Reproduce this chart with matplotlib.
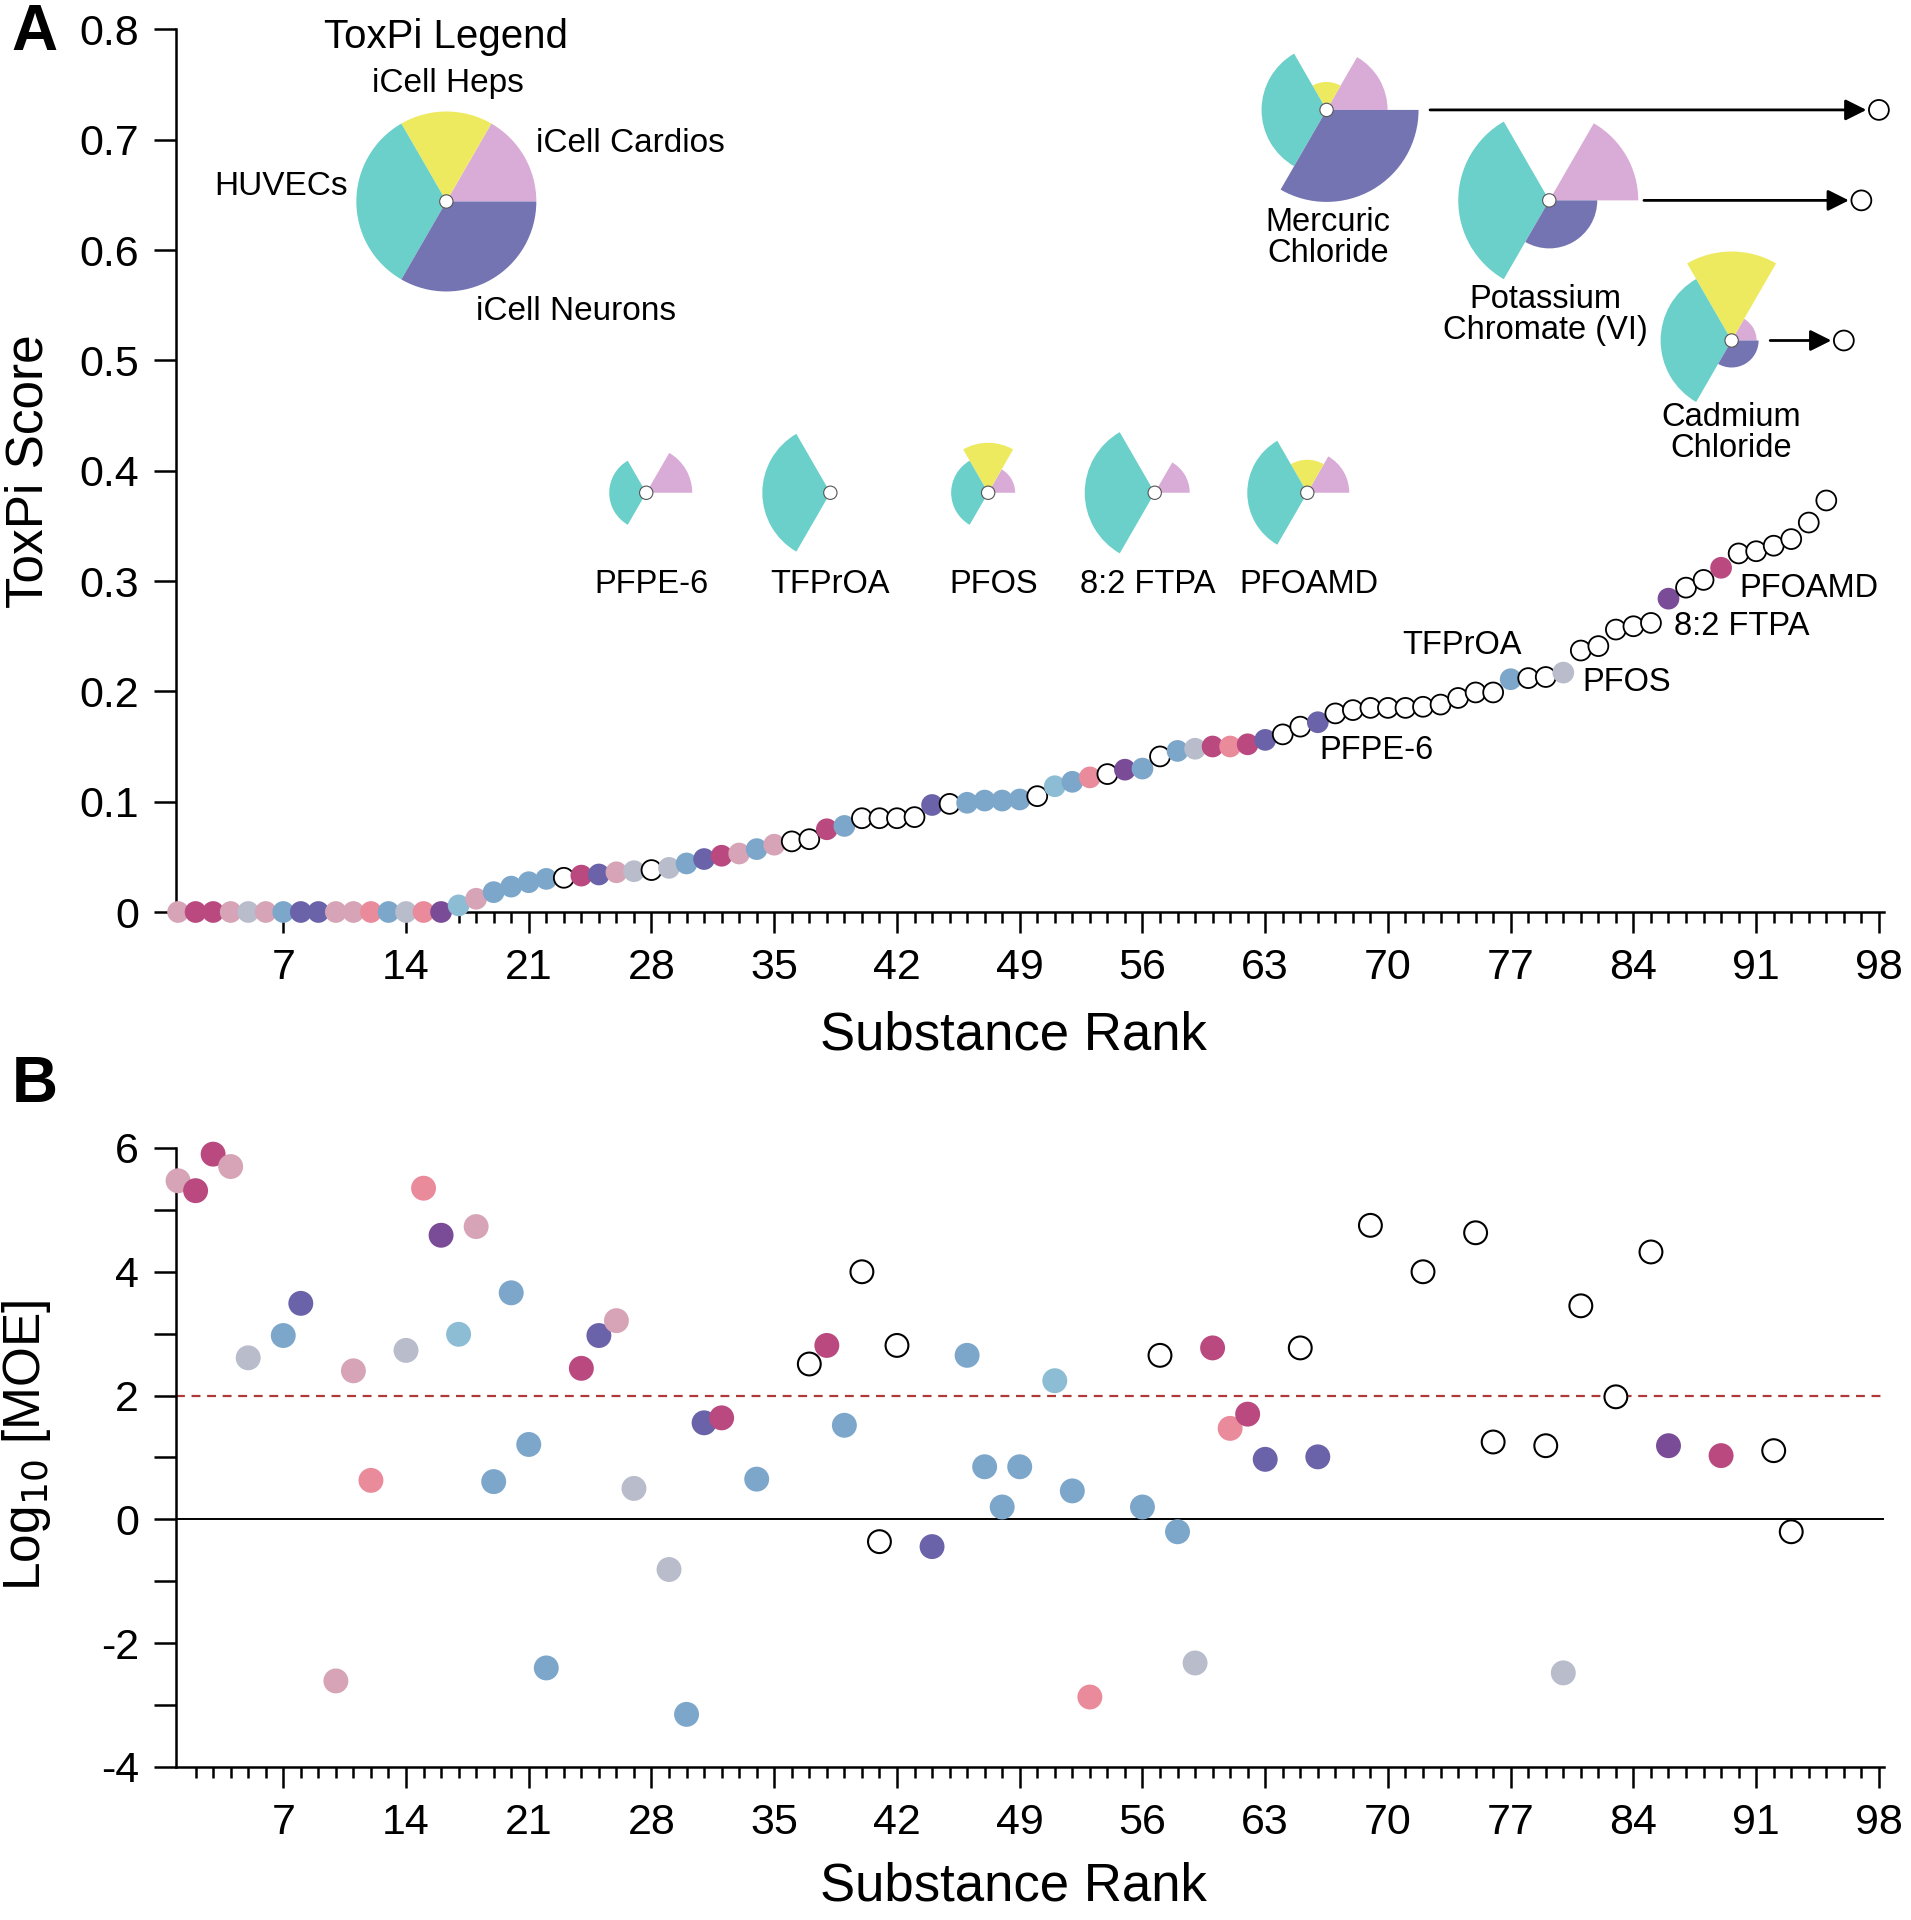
"""
ToxPi score ranking (A) and margin of exposure (B) for the tested substances
"""

import matplotlib

matplotlib.use('Agg')

import matplotlib.pyplot as plt
import numpy as np
from matplotlib.offsetbox import AnnotationBbox, DrawingArea
from matplotlib.patches import Circle, Wedge

plt.rcParams['font.family'] = ['Liberation Sans', 'DejaVu Sans']

# colours of the substance groups ('open' = hollow marker)
GROUP_COLORS = {
    'mauve': '#d6a4b6',
    'magenta': '#b9497f',
    'salmon': '#ea8b9b',
    'grey': '#b8bccb',
    'blue': '#7ca6ca',
    'sky': '#8dbdd4',
    'indigo': '#6a63a9',
    'violet': '#7a4b96',
    'open': 'none',
}

# ---- Panel A: ToxPi score per substance rank ----
rank = np.arange(1, 99)
toxpi_score = [
    0, 0, 0, 0, 0, 0, 0, 0, 0, 0, 0, 0, 0, 0, 0, 0,
    0.006, 0.012, 0.018, 0.023, 0.027, 0.030, 0.031, 0.033, 0.034, 0.036,
    0.037, 0.038, 0.040, 0.044, 0.048, 0.051, 0.053, 0.057, 0.061, 0.064,
    0.066, 0.075, 0.078, 0.085, 0.085, 0.085, 0.086, 0.097, 0.098, 0.099,
    0.101, 0.101, 0.102, 0.105, 0.114, 0.118, 0.122, 0.125, 0.129, 0.130,
    0.141, 0.146, 0.148, 0.150, 0.150, 0.152, 0.156, 0.161, 0.168, 0.172,
    0.180, 0.183, 0.185, 0.185, 0.185, 0.186, 0.188, 0.194, 0.199, 0.199,
    0.211, 0.212, 0.213, 0.217, 0.237, 0.241, 0.256, 0.259, 0.262, 0.284,
    0.294, 0.301, 0.312, 0.325, 0.327, 0.332, 0.338, 0.353, 0.373,
    0.518, 0.645, 0.727,
]
group = [
    'mauve', 'magenta', 'magenta', 'mauve', 'grey', 'mauve', 'blue', 'indigo',
    'indigo', 'mauve', 'mauve', 'salmon', 'blue', 'grey', 'salmon', 'violet',
    'sky', 'mauve', 'blue', 'blue', 'blue', 'blue', 'open', 'magenta',
    'indigo', 'mauve', 'grey', 'open', 'grey', 'blue', 'indigo', 'magenta',
    'mauve', 'blue', 'mauve', 'open', 'open', 'magenta', 'blue', 'open',
    'open', 'open', 'open', 'indigo', 'open', 'blue', 'blue', 'blue',
    'blue', 'open', 'sky', 'blue', 'salmon', 'open', 'violet', 'blue',
    'open', 'blue', 'grey', 'magenta', 'salmon', 'magenta', 'indigo', 'open',
    'open', 'indigo', 'open', 'open', 'open', 'open', 'open', 'open',
    'open', 'open', 'open', 'open', 'blue', 'open', 'open', 'grey',
    'open', 'open', 'open', 'open', 'open', 'violet', 'open', 'open',
    'magenta', 'open', 'open', 'open', 'open', 'open', 'open',
    'open', 'open', 'open',
]

# labelled PFAS on the curve: (name, rank)
curve_labels = ['PFPE-6', 'TFPrOA', 'PFOS', '8:2 FTPA', 'PFOAMD']
curve_label_rank = [66, 77, 80, 86, 89]

# ToxPi slices: iCell Cardios, iCell Heps, HUVECs, iCell Neurons
slice_names = ['iCell Cardios', 'iCell Heps', 'HUVECs', 'iCell Neurons']
slice_colors = ['#d9acd7', '#eeea60', '#6ad0c9', '#7574b3']
slice_angles = [(0, 60), (60, 120), (120, 240), (240, 360)]

# slice scores of the example glyphs
glyph_names = ['PFPE-6', 'TFPrOA', 'PFOS', '8:2 FTPA', 'PFOAMD']
glyph_slices = [
    [0.46, 0.00, 0.37, 0.00],
    [0.00, 0.00, 0.68, 0.00],
    [0.27, 0.50, 0.37, 0.00],
    [0.35, 0.00, 0.70, 0.00],
    [0.42, 0.33, 0.60, 0.00],
]
top_names = ['Mercuric\nChloride', 'Potassium\nChromate (VI)', 'Cadmium\nChloride']
top_rank = [98, 97, 96]
top_slices = [
    [0.61, 0.28, 0.65, 0.92],
    [0.89, 0.00, 0.91, 0.48],
    [0.25, 0.89, 0.71, 0.27],
]

# ---- Panel B: log10 margin of exposure ----
moe_rank = [1, 2, 3, 4, 5, 7, 8, 10, 11, 12, 14, 15, 16, 17, 18, 19, 20, 21,
            22, 24, 25, 26, 27, 29, 30, 31, 32, 34, 37, 38, 39, 40, 41, 42,
            44, 46, 47, 48, 49, 51, 52, 53, 56, 57, 58, 59, 60, 61, 62, 63,
            65, 66, 69, 72, 75, 76, 79, 80, 81, 83, 85, 86, 89, 92, 93]
log_moe = [5.47, 5.31, 5.90, 5.70, 2.61, 2.97, 3.49, -2.61, 2.40, 0.63, 2.73,
           5.35, 4.59, 2.99, 4.73, 0.61, 3.66, 1.21, -2.40, 2.44, 2.97, 3.21,
           0.50, -0.81, -3.15, 1.56, 1.64, 0.65, 2.51, 2.81, 1.52, 4.00,
           -0.36, 2.81, -0.44, 2.65, 0.85, 0.20, 0.85, 2.24, 0.46, -2.87,
           0.20, 2.65, -0.20, -2.32, 2.77, 1.47, 1.70, 0.97, 2.77, 1.01,
           4.75, 4.00, 4.63, 1.25, 1.19, -2.48, 3.45, 1.98, 4.32, 1.19, 1.03,
           1.11, -0.20]
moe_threshold = 2


def marker_colors(groups):
    face = ['white' if g == 'open' else GROUP_COLORS[g] for g in groups]
    edge = ['black' if g == 'open' else GROUP_COLORS[g] for g in groups]
    return face, edge


def add_toxpi(ax, xy, slices, unit_px=100):
    """ToxPi glyph centred on xy (data coords); slice radius = score * unit_px"""
    r_max = unit_px * 72 / 100.0
    da = DrawingArea(2 * r_max, 2 * r_max, 0, 0, clip=False)
    c = r_max
    for score, color, (t1, t2) in zip(slices, slice_colors, slice_angles):
        if score > 0:
            da.add_artist(Wedge((c, c), score * r_max, t1, t2, facecolor=color,
                                edgecolor='none'))
    da.add_artist(Circle((c, c), 4.8, facecolor='white', edgecolor='#555555', lw=0.8))
    ab = AnnotationBbox(da, xy, xycoords='data', frameon=False, pad=0,
                        box_alignment=(0.5, 0.5), annotation_clip=False)
    ax.add_artist(ab)


def style_axis(ax, minor_start, label_y):
    for side in ['top', 'right']:
        ax.spines[side].set_visible(False)
    for side in ['left', 'bottom']:
        ax.spines[side].set_linewidth(1.8)
    ax.set_xlim(0.9, 98.3)
    ax.set_xticks(np.arange(7, 99, 7))
    ax.set_xticks(np.arange(minor_start, 99), minor=True)
    ax.tick_params(axis='both', which='major', direction='out', width=1.8,
                   labelsize=31, pad=11)
    ax.tick_params(axis='x', which='major', length=15)
    ax.tick_params(axis='y', which='major', length=16)
    ax.tick_params(axis='x', which='minor', direction='out', length=8, width=1.8)
    ax.set_xlabel('Substance Rank', fontsize=38)
    ax.xaxis.set_label_coords(0.49, label_y)


fig = plt.figure(figsize=(19.11, 19.20), dpi=100)
axA = fig.add_axes([0.09226, 0.525, 0.8937, 0.4597])
axB = fig.add_axes([0.09226, 0.0797, 0.8937, 0.3224])

# ---------------- Panel A ----------------
face, edge = marker_colors(group)
axA.scatter(rank, toxpi_score, s=205, c=face, edgecolors=edge, linewidths=1.3,
            clip_on=False, zorder=5)
axA.set_ylim(0, 0.8)
axA.set_yticks(np.arange(0, 0.81, 0.1))
axA.set_yticklabels(['0'] + [f'{v:.1f}' for v in np.arange(0.1, 0.81, 0.1)])
style_axis(axA, 17, -0.112)
axA.set_ylabel('ToxPi Score', fontsize=37)
axA.yaxis.set_label_coords(-0.072, 0.5)

score_of = dict(zip(rank, toxpi_score))
label_offsets = [(42, -20), (-35, 24), (46, -7), (53, -20), (63, -15)]
for name, r, off in zip(curve_labels, curve_label_rank, label_offsets):
    axA.annotate(name, (r, score_of[r]), xytext=off, textcoords='offset points',
                 ha='center', va='center', fontsize=23.5)

# legend glyph
add_toxpi(axA, (16.3, 0.644), [0.9, 0.9, 0.9, 0.9])
axA.text(16.3, 0.793, 'ToxPi Legend', fontsize=29, ha='center', va='center')
axA.text(16.4, 0.751, 'iCell Heps', fontsize=24, ha='center', va='center')
axA.text(21.4, 0.697, 'iCell Cardios', fontsize=24, ha='left', va='center')
axA.text(10.7, 0.658, 'HUVECs', fontsize=24, ha='right', va='center')
axA.text(18.0, 0.544, 'iCell Neurons', fontsize=24, ha='left', va='center')

# example PFAS glyphs
glyph_x = [27.7, 38.2, 47.2, 56.7, 65.4]
label_x = [28.0, 38.2, 47.5, 56.3, 65.5]
for name, sl, gx, lx in zip(glyph_names, glyph_slices, glyph_x, label_x):
    add_toxpi(axA, (gx, 0.380), sl)
    axA.text(lx, 0.297, name, fontsize=23.5, ha='center', va='center')

# three most toxic substances with arrows to their points
top_glyph = [(66.5, 0.727), (79.2, 0.645), (89.6, 0.518)]
top_label = [(66.6, 0.611), (79.0, 0.541), (89.6, 0.434)]
arrow_start = [72.4, 84.6, 91.8]
for name, r, sl, gxy, lxy, x0 in zip(top_names, top_rank, top_slices, top_glyph,
                                     top_label, arrow_start):
    add_toxpi(axA, gxy, sl)
    axA.text(*lxy, name, fontsize=23.5, ha='center', va='center', linespacing=1.0)
    axA.annotate('', xy=(r, score_of[r]), xytext=(x0, score_of[r]),
                 arrowprops=dict(arrowstyle='-|>', color='black', lw=2.0,
                                 mutation_scale=32, shrinkA=0, shrinkB=9))

# ---------------- Panel B ----------------
moe_group = [group[r - 1] for r in moe_rank]
face, edge = marker_colors(moe_group)
axB.axhline(0, color='black', lw=1.4, zorder=1)
axB.axhline(moe_threshold, color='#b03a3a', lw=1.6, ls=(0, (4, 3)), zorder=1)
axB.scatter(moe_rank, log_moe, s=270, c=face, edgecolors=edge, linewidths=1.5,
            clip_on=False, zorder=5)
axB.set_ylim(-4, 6)
axB.set_yticks(np.arange(-4, 7, 1))
axB.set_yticklabels([str(v) if v % 2 == 0 else '' for v in range(-4, 7)])
style_axis(axB, 2, -0.152)
axB.set_ylabel(r'Log$_{10}$ [MOE]', fontsize=37)
axB.yaxis.set_label_coords(-0.072, 0.52)

fig.text(0.018, 0.983, 'A', fontsize=46, fontweight='bold', ha='center', va='center')
fig.text(0.018, 0.435, 'B', fontsize=46, fontweight='bold', ha='center', va='center')

fig.savefig('out.png', dpi=100, facecolor='white')
plt.close(fig)
